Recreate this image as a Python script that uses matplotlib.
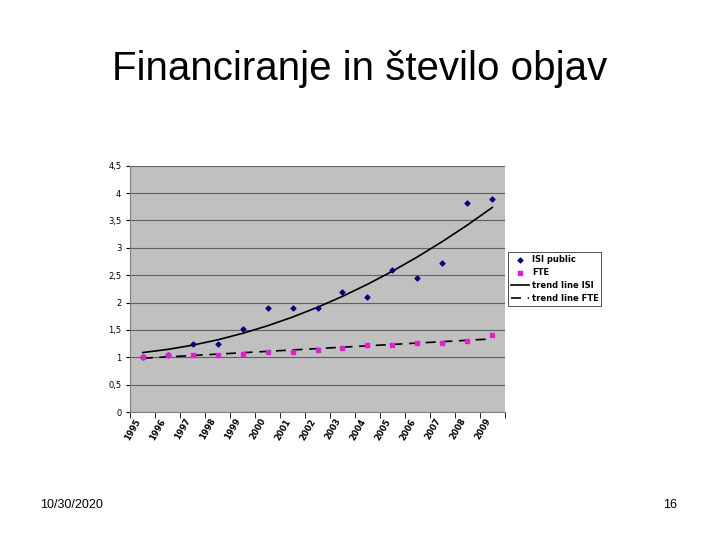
import numpy as np
import matplotlib
matplotlib.use("Agg")
import matplotlib.pyplot as plt

years = ["1995","1996","1997","1998","1999","2000","2001","2002","2003","2004","2005","2006","2007","2008","2009"]
isi = [1.0, 1.05, 1.25, 1.25, 1.52, 1.9, 1.9, 1.9, 2.2, 2.1, 2.6, 2.45, 2.72, 3.82, 3.9]
fte = [1.0, 1.05, 1.05, 1.05, 1.06, 1.1, 1.1, 1.13, 1.17, 1.22, 1.22, 1.27, 1.27, 1.3, 1.4]

fig = plt.figure(figsize=(7.2, 5.4), dpi=100)
fig.text(0.5, 0.873, "Financiranje in število objav", ha="center", va="center", fontsize=29, family="Liberation Sans")
fig.text(0.055, 0.065, "10/30/2020", ha="left", va="center", fontsize=9, family="Liberation Sans")
fig.text(0.94, 0.065, "16", ha="right", va="center", fontsize=9, family="Liberation Sans")

ax = fig.add_axes([0.181, 0.237, 0.52, 0.456])
ax.set_facecolor("#c0c0c0")
x = np.arange(len(years))
ax.scatter(x, isi, marker="D", s=6, color="#000080", zorder=3, label="ISI public")
ax.scatter(x, fte, marker="s", s=11, color="#e020d0", zorder=3, label="FTE")
b = np.polyfit(x, isi, 2)
ax.plot(x, np.polyval(b, x), color="black", lw=1.2, label="trend line ISI", zorder=2)
c = np.polyfit(x, fte, 1)
ax.plot(x, np.polyval(c, x), color="black", lw=1.2, ls=(0, (6, 4)), label="trend line FTE", zorder=2)

ax.set_xlim(-0.5, len(years) - 0.5)
ax.set_ylim(0, 4.5)
ax.set_yticks(np.arange(0, 4.51, 0.5))
ax.set_yticklabels(["0", "0,5", "1", "1,5", "2", "2,5", "3", "3,5", "4", "4,5"], fontsize=6)
ax.set_xticks(x)
ax.set_xticklabels(years, rotation=60, ha="right", fontsize=6, fontweight="bold")
ax.set_xticks(np.arange(-0.5, len(years)), minor=True)
ax.tick_params(axis="x", which="major", length=0)
ax.tick_params(axis="x", which="minor", length=4)
ax.tick_params(axis="y", length=3)
ax.yaxis.grid(True, color="#606060", lw=0.8)
ax.set_axisbelow(True)
for s in ["top", "right"]:
    ax.spines[s].set_visible(False)
ax.spines["left"].set_color("#808080")
ax.spines["bottom"].set_color("#808080")

leg = ax.legend(loc="center left", bbox_to_anchor=(1.01, 0.54), frameon=True,
                fancybox=False, edgecolor="black", prop={"weight": "bold", "size": 6},
                handlelength=2.2, labelspacing=0.5, borderpad=0.3, handletextpad=0.3,
                borderaxespad=0)
leg.get_frame().set_linewidth(0.6)
fig.savefig("out.png", dpi=100)
